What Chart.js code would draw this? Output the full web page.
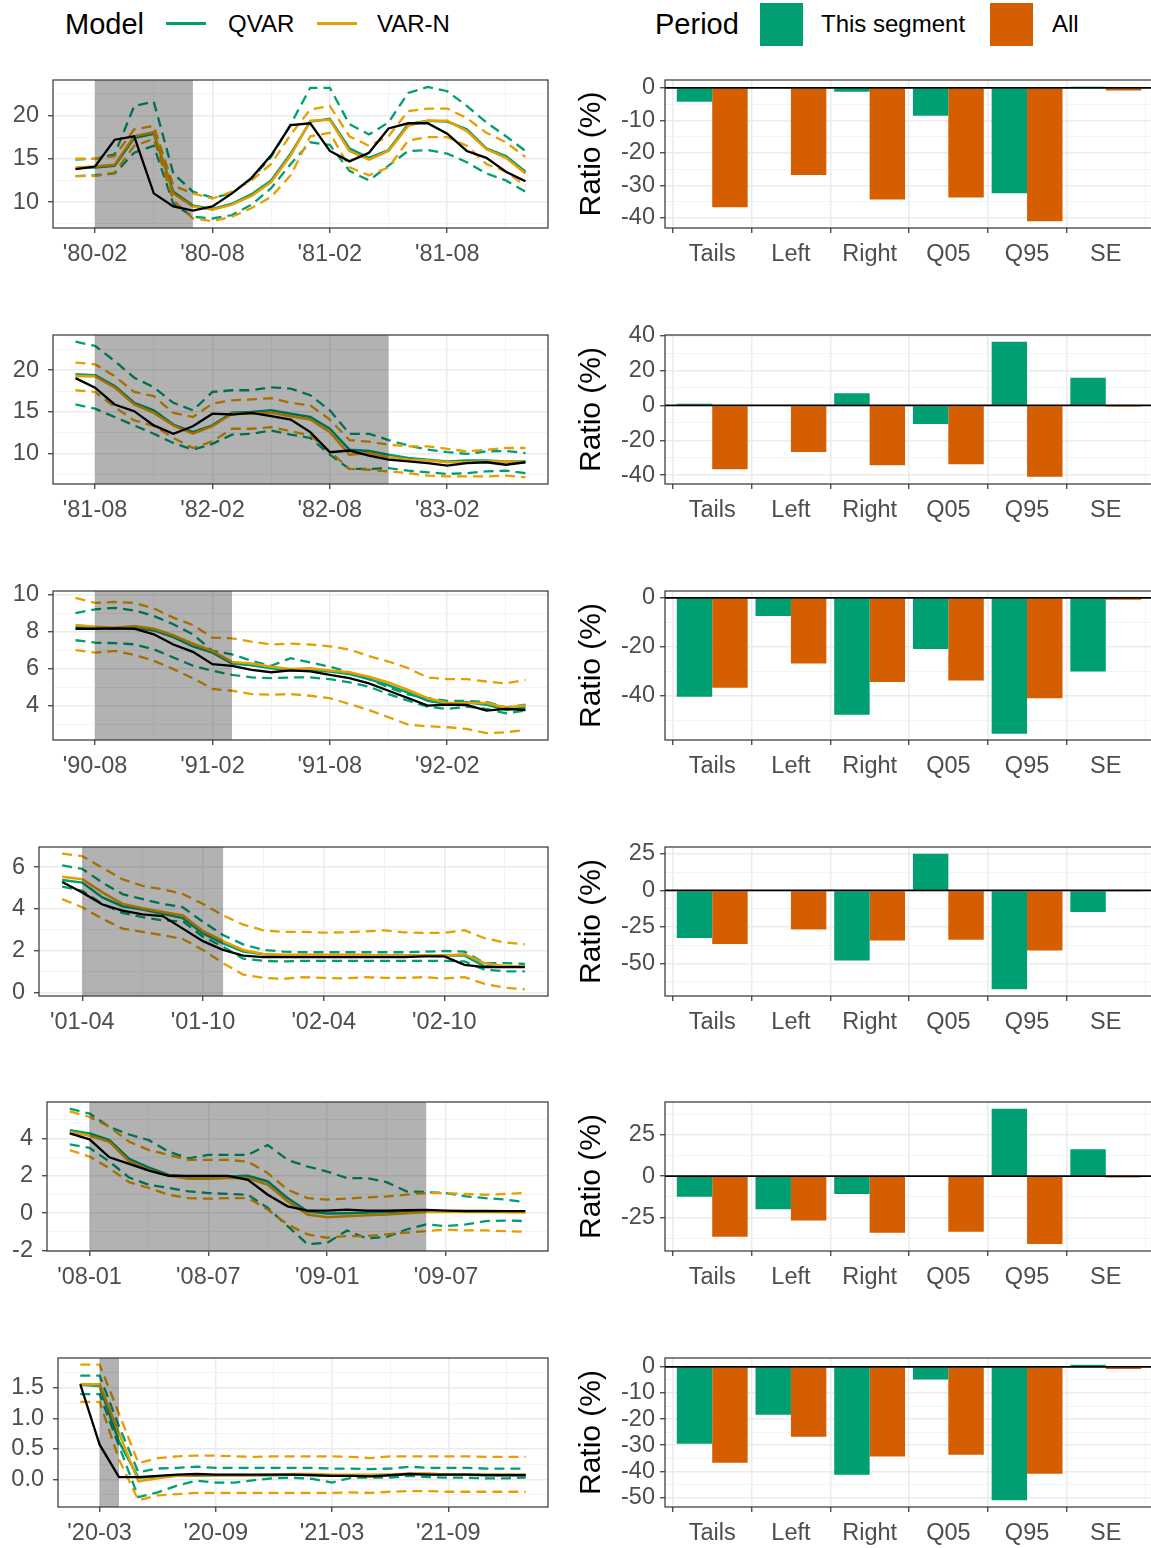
<!DOCTYPE html>
<html>
<head>
<meta charset="utf-8">
<script src="https://cdn.jsdelivr.net/npm/chart.js@4.4.0/dist/chart.umd.min.js"></script>
<style>
  body { margin: 0; width: 1151px; height: 1548px; position: relative; overflow: hidden; background: #fff;
         font-family: 'Liberation Sans', Arial, Helvetica, sans-serif; }
  canvas { position: absolute; }
  .lg { position: absolute; top: 0; height: 48px; line-height: 48px; font-size: 24px; color: #000; white-space: nowrap; }
  .ttl { font-size: 29px; }
  .kline { position: absolute; top: 22px; width: 40px; height: 3px; }
  .ksq { position: absolute; top: 3px; width: 43px; height: 43px; }
</style>
</head>
<body>
<div class="lg ttl" style="left:65px">Model</div>
<div class="kline" style="left:166px;background:#009E73"></div>
<div class="lg" style="left:228px">QVAR</div>
<div class="kline" style="left:317px;background:#E69F00"></div>
<div class="lg" style="left:377px">VAR-N</div>
<div class="lg ttl" style="left:655px">Period</div>
<div class="ksq" style="left:760px;background:#009E73"></div>
<div class="lg" style="left:821px">This segment</div>
<div class="ksq" style="left:990px;background:#D55E00"></div>
<div class="lg" style="left:1052px">All</div>

<script>
// month tick labels of each segment (ticks sit at month index 1, 7, 13, 19)
const tickLabels = [
  ["'80-02", "'80-08", "'81-02", "'81-08"],
  ["'81-08", "'82-02", "'82-08", "'83-02"],
  ["'90-08", "'91-02", "'91-08", "'92-02"],
  ["'01-04", "'01-10", "'02-04", "'02-10"],
  ["'08-01", "'08-07", "'09-01", "'09-07"],
  ["'20-03", "'20-09", "'21-03", "'21-09"]
];
// recession months (index into each segment)
const recessionStart = [1, 1, 1, 1, 1, 1];
const recessionEnd = [6, 16, 8, 8, 18, 2];

const actual = [
  [13.8, 14.1, 17.2, 17.6, 11.0, 9.5, 9.0, 9.5, 11.0, 12.8, 15.4, 18.9, 19.1, 15.9, 14.7, 15.7, 18.5, 19.1, 19.1, 17.9, 15.9, 15.1, 13.5, 12.4],
  [19.05, 17.9, 15.9, 15.1, 13.4, 12.4, 13.3, 14.8, 14.7, 14.9, 14.5, 14.1, 12.6, 10.2, 10.4, 9.8, 9.3, 9.1, 8.9, 8.6, 8.9, 9.0, 8.7, 9.0],
  [8.15, 8.15, 8.17, 8.15, 7.85, 7.3, 6.9, 6.24, 6.15, 5.93, 5.8, 5.9, 5.85, 5.66, 5.48, 5.2, 4.8, 4.4, 4.0, 4.05, 4.03, 3.73, 3.82, 3.76],
  [5.29, 4.79, 4.21, 3.92, 3.74, 3.66, 3.06, 2.46, 2.04, 1.77, 1.70, 1.70, 1.70, 1.70, 1.70, 1.70, 1.70, 1.70, 1.73, 1.73, 1.33, 1.22, 1.22, 1.22],
  [4.27, 3.95, 2.99, 2.64, 2.28, 2.0, 2.0, 2.0, 2.0, 1.79, 0.99, 0.37, 0.14, 0.14, 0.19, 0.14, 0.14, 0.16, 0.18, 0.14, 0.12, 0.12, 0.11, 0.11],
  [1.56, 0.57, 0.04, 0.04, 0.06, 0.08, 0.09, 0.08, 0.08, 0.08, 0.08, 0.08, 0.07, 0.06, 0.06, 0.05, 0.07, 0.09, 0.08, 0.08, 0.08, 0.07, 0.07, 0.07]
];
const qvar = [
  [13.9, 14.0, 14.2, 17.4, 17.9, 11.2, 9.6, 9.2, 9.8, 10.9, 12.5, 15.6, 19.3, 19.6, 16.2, 15.1, 16.0, 19.0, 19.4, 19.3, 18.4, 16.2, 15.3, 13.5],
  [19.5, 19.4, 18.1, 16.1, 15.2, 13.5, 12.6, 13.4, 14.9, 15.0, 15.2, 14.8, 14.4, 13.0, 10.5, 10.35, 9.9, 9.5, 9.3, 9.1, 9.2, 9.2, 9.1, 9.1],
  [8.24, 8.2, 8.17, 8.2, 8.06, 7.7, 7.2, 6.86, 6.27, 6.18, 6.02, 5.9, 5.9, 5.84, 5.7, 5.43, 5.1, 4.7, 4.26, 4.09, 4.18, 4.05, 3.76, 3.9],
  [5.38, 5.26, 4.55, 4.13, 3.97, 3.77, 3.56, 2.83, 2.35, 1.96, 1.84, 1.77, 1.77, 1.77, 1.77, 1.77, 1.77, 1.77, 1.77, 1.77, 1.77, 1.26, 1.26, 1.26],
  [4.44, 4.27, 3.91, 2.90, 2.44, 2.05, 1.96, 1.96, 1.96, 2.0, 1.70, 0.81, 0.11, -0.02, 0.0, 0.04, 0.07, 0.11, 0.11, 0.11, 0.11, 0.11, 0.11, 0.09],
  [1.55, 1.53, 0.62, 0.03, 0.05, 0.06, 0.06, 0.07, 0.07, 0.07, 0.07, 0.08, 0.08, 0.07, 0.07, 0.07, 0.08, 0.09, 0.09, 0.08, 0.08, 0.08, 0.08, 0.08]
];
const qvarLo = [
  [13.0, 13.1, 13.3, 15.7, 16.5, 9.8, 8.3, 8.1, 8.5, 9.7, 11.6, 14.4, 16.9, 16.6, 13.6, 12.5, 14.2, 15.9, 16.0, 15.6, 14.6, 13.3, 12.5, 11.2],
  [15.9, 15.4, 14.4, 13.4, 12.4, 11.3, 10.5, 11.2, 12.3, 12.4, 12.8, 12.3, 11.9, 9.9, 8.2, 8.2, 8.3, 8.0, 7.8, 7.6, 7.7, 7.9, 8.0, 7.7],
  [7.53, 7.4, 7.37, 7.31, 7.04, 6.6, 6.15, 5.88, 5.66, 5.52, 5.48, 5.52, 5.52, 5.43, 5.25, 5.02, 4.62, 4.26, 3.94, 3.82, 3.94, 3.82, 3.58, 3.73],
  [5.07, 4.87, 4.24, 3.81, 3.61, 3.45, 3.41, 2.67, 2.2, 1.62, 1.52, 1.49, 1.52, 1.52, 1.52, 1.52, 1.52, 1.52, 1.52, 1.52, 1.49, 1.10, 1.02, 1.02],
  [3.68, 3.50, 2.76, 1.91, 1.52, 1.35, 1.17, 1.08, 1.03, 0.99, 0.28, -0.69, -1.66, -1.58, -0.92, -1.35, -1.27, -0.87, -0.60, -0.69, -0.60, -0.42, -0.39, -0.42],
  [1.40, 1.40, 0.55, -0.29, -0.21, -0.10, -0.02, -0.05, -0.05, -0.01, 0.02, 0.03, 0.01, -0.05, 0.03, 0.03, 0.03, 0.06, 0.04, 0.03, 0.03, 0.02, 0.02, 0.03]
];
const qvarHi = [
  [14.9, 15.0, 15.5, 21.1, 21.6, 13.3, 11.2, 10.5, 11.0, 12.7, 15.2, 19.0, 23.2, 23.2, 19.0, 17.8, 19.2, 22.6, 23.3, 22.8, 21.1, 19.2, 17.6, 15.9],
  [23.4, 22.9, 21.1, 19.1, 17.95, 16.1, 15.2, 17.4, 17.6, 17.6, 17.95, 17.8, 17.0, 15.2, 12.4, 12.4, 11.65, 11.0, 10.5, 10.2, 10.0, 10.3, 10.35, 10.1],
  [9.0, 9.2, 9.28, 9.14, 8.84, 8.39, 7.85, 6.95, 6.77, 6.42, 6.15, 6.56, 6.33, 6.1, 5.8, 5.43, 4.98, 4.6, 4.4, 4.25, 4.25, 4.2, 3.9, 4.05],
  [6.08, 5.92, 5.26, 4.71, 4.47, 4.24, 4.08, 3.38, 2.75, 2.31, 2.04, 1.96, 1.93, 1.93, 1.93, 1.93, 1.93, 1.93, 1.96, 1.99, 1.96, 1.41, 1.41, 1.37],
  [5.59, 5.33, 4.62, 4.21, 3.91, 3.29, 2.94, 3.12, 3.12, 3.12, 3.65, 2.85, 2.50, 2.23, 1.88, 1.88, 1.66, 1.17, 1.13, 1.08, 0.90, 0.81, 0.73, 0.60],
  [1.70, 1.70, 0.87, 0.12, 0.18, 0.19, 0.21, 0.19, 0.19, 0.19, 0.19, 0.19, 0.19, 0.18, 0.18, 0.17, 0.18, 0.21, 0.19, 0.19, 0.19, 0.18, 0.18, 0.18]
];
const varn = [
  [14.0, 14.1, 14.3, 17.6, 18.1, 11.0, 9.5, 9.1, 9.7, 10.7, 12.3, 15.4, 19.4, 19.5, 15.9, 14.9, 15.9, 18.8, 19.4, 19.4, 18.2, 16.1, 15.1, 13.3],
  [19.3, 19.25, 17.95, 15.9, 14.9, 13.4, 12.4, 13.3, 14.8, 14.8, 14.9, 14.5, 14.1, 12.6, 9.9, 10.1, 9.6, 9.3, 9.2, 9.0, 9.0, 9.1, 9.1, 9.0],
  [8.35, 8.26, 8.2, 8.3, 8.15, 7.8, 7.35, 6.95, 6.36, 6.27, 6.1, 5.97, 6.02, 5.9, 5.8, 5.56, 5.25, 4.84, 4.4, 4.14, 4.14, 4.14, 3.9, 4.0],
  [5.54, 5.42, 4.79, 4.24, 4.03, 3.85, 3.69, 2.95, 2.46, 2.04, 1.85, 1.81, 1.81, 1.81, 1.81, 1.81, 1.77, 1.77, 1.77, 1.77, 1.84, 1.41, 1.26, 1.26],
  [4.35, 4.14, 3.82, 2.76, 2.32, 2.0, 1.84, 1.84, 1.88, 1.88, 1.52, 0.64, -0.07, -0.21, -0.16, -0.11, -0.07, 0.0, 0.07, 0.07, 0.07, 0.07, 0.05, 0.04],
  [1.56, 1.56, 0.76, -0.03, 0.02, 0.06, 0.07, 0.07, 0.07, 0.07, 0.08, 0.09, 0.09, 0.08, 0.08, 0.08, 0.08, 0.10, 0.10, 0.08, 0.08, 0.08, 0.08, 0.08]
];
const varnLo = [
  [13.0, 13.0, 13.4, 16.5, 17.3, 10.2, 8.1, 7.8, 8.3, 9.3, 10.6, 13.1, 17.6, 18.0, 14.0, 13.1, 14.0, 17.1, 17.5, 17.5, 16.5, 14.4, 13.5, 11.9],
  [17.6, 17.4, 15.6, 14.0, 13.35, 11.9, 10.7, 11.5, 13.0, 13.0, 13.2, 12.7, 12.2, 10.3, 8.2, 8.1, 7.9, 7.7, 7.4, 7.3, 7.3, 7.3, 7.4, 7.2],
  [6.99, 6.86, 6.95, 6.74, 6.42, 5.97, 5.48, 4.9, 4.8, 4.62, 4.59, 4.62, 4.53, 4.4, 4.09, 3.76, 3.37, 2.97, 2.88, 2.83, 2.74, 2.51, 2.56, 2.69],
  [4.47, 4.08, 3.53, 3.06, 2.90, 2.75, 2.56, 2.04, 1.41, 0.86, 0.71, 0.66, 0.74, 0.71, 0.68, 0.74, 0.71, 0.71, 0.74, 0.68, 0.74, 0.42, 0.24, 0.16],
  [3.38, 3.03, 2.41, 1.66, 1.35, 0.99, 0.81, 0.78, 0.81, 0.81, 0.19, -0.60, -1.13, -1.31, -1.22, -1.22, -1.13, -1.04, -0.96, -0.87, -0.92, -0.92, -0.96, -0.99],
  [1.27, 1.27, 0.33, -0.34, -0.26, -0.24, -0.22, -0.22, -0.22, -0.22, -0.22, -0.22, -0.22, -0.22, -0.21, -0.22, -0.20, -0.19, -0.19, -0.20, -0.20, -0.20, -0.20, -0.20]
];
const varnHi = [
  [15.0, 15.0, 15.3, 18.4, 18.8, 11.9, 11.0, 10.4, 11.2, 12.5, 14.4, 17.8, 20.7, 21.1, 17.6, 16.5, 17.6, 20.5, 20.8, 20.8, 19.7, 18.0, 16.9, 15.2],
  [20.9, 20.7, 19.3, 17.4, 16.9, 14.9, 14.4, 16.0, 16.4, 16.5, 16.65, 16.1, 15.8, 14.1, 11.65, 11.45, 11.1, 10.9, 10.9, 10.6, 10.3, 10.5, 10.7, 10.7],
  [9.82, 9.55, 9.6, 9.55, 9.25, 8.75, 8.35, 7.67, 7.63, 7.45, 7.3, 7.35, 7.3, 7.2, 7.03, 6.67, 6.38, 6.02, 5.52, 5.43, 5.43, 5.3, 5.2, 5.38],
  [6.64, 6.52, 5.97, 5.42, 5.10, 4.94, 4.71, 4.24, 3.69, 3.25, 2.98, 2.90, 2.90, 2.87, 2.88, 2.92, 2.98, 2.88, 2.86, 2.86, 2.98, 2.60, 2.40, 2.31],
  [5.45, 5.15, 4.62, 3.82, 3.38, 3.12, 2.85, 2.85, 2.85, 2.76, 2.14, 1.26, 0.81, 0.73, 0.78, 0.85, 0.90, 0.99, 1.08, 1.08, 1.03, 0.99, 1.03, 1.08],
  [1.88, 1.88, 1.08, 0.27, 0.35, 0.38, 0.39, 0.39, 0.38, 0.37, 0.38, 0.38, 0.38, 0.38, 0.37, 0.35, 0.38, 0.38, 0.38, 0.38, 0.38, 0.37, 0.37, 0.37]
];

// bar panels: ratio (%) per statistic
const categories = ['Tails', 'Left', 'Right', 'Q05', 'Q95', 'SE'];
const allRatio = [-36.7, -26.8, -34.3, -33.7, -41.0, -0.8];
const segmentRatio = [
  [-4.3, 0, -1.2, -8.6, -32.4, 0.3],
  [0.9, 0, 7.0, -10.6, 36.5, 15.9],
  [-40.4, -7.4, -47.7, -20.9, -55.4, -30.0],
  [-32.6, 0, -48.0, 25.1, -67.6, -14.7],
  [-12.5, -20.1, -10.8, 0, 40.8, 16.3],
  [-29.5, -18.3, -41.3, -4.8, -51.1, 0.8]
];

// axis setup per row
const lineY = [
  { min: 7.0, max: 24.1, major: [10, 15, 20], minor: [7.5, 12.5, 17.5, 22.5], dec: 0 },
  { min: 6.4, max: 24.2, major: [10, 15, 20], minor: [7.5, 12.5, 17.5, 22.5], dec: 0 },
  { min: 2.14, max: 10.19, major: [4, 6, 8, 10], minor: [3, 5, 7, 9], dec: 0 },
  { min: -0.16, max: 6.96, major: [0, 2, 4, 6], minor: [1, 3, 5], dec: 0 },
  { min: -2.02, max: 5.95, major: [-2, 0, 2, 4], minor: [-1, 1, 3, 5], dec: 0 },
  { min: -0.45, max: 1.99, major: [0, 0.5, 1, 1.5], minor: [-0.25, 0.25, 0.75, 1.25, 1.75], dec: 1 }
];
const barY = [
  { min: -43.1, max: 2.4, major: [-40, -30, -20, -10, 0], minor: [-35, -25, -15, -5] },
  { min: -45.1, max: 40.4, major: [-40, -20, 0, 20, 40], minor: [-30, -10, 10, 30] },
  { min: -58.0, max: 2.8, major: [-40, -20, 0], minor: [-50, -30, -10] },
  { min: -72.2, max: 29.7, major: [-50, -25, 0, 25], minor: [-62.5, -37.5, -12.5, 12.5] },
  { min: -45.3, max: 44.9, major: [-25, 0, 25], minor: [-37.5, -12.5, 12.5, 37.5] },
  { min: -53.7, max: 3.4, major: [-50, -40, -30, -20, -10, 0], minor: [-45, -35, -25, -15, -5] }
];

const rowTop = [80, 335, 591, 847, 1102, 1358];
const rowBottom = [228, 484, 740, 996, 1251, 1507];
const lineLeft = [53, 53, 53, 39, 47, 58];
const barLeft = 665;

const FONT = "'Liberation Sans', Arial, Helvetica, sans-serif";
const GREEN = '#009E73', ORANGE = '#E69F00', VERMILION = '#D55E00';
const TOPPAD = 24, XAXIS_H = 45;

function makeCanvas(left, top, w, h) {
  const c = document.createElement('canvas');
  c.width = w; c.height = h;
  c.style.left = left + 'px'; c.style.top = top + 'px';
  c.style.width = w + 'px'; c.style.height = h + 'px';
  document.body.appendChild(c);
  return c;
}

function setTicks(major, minor) {
  return scale => {
    scale.ticks = major.map(v => ({ value: v, isMajor: true }))
      .concat(minor.map(v => ({ value: v, isMajor: false })))
      .sort((a, b) => a.value - b.value);
  };
}

const grid = {
  color: c => (c.tick && c.tick.isMajor) ? '#EBEBEB' : '#F2F2F2',
  lineWidth: c => (c.tick && c.tick.isMajor) ? 1.5 : 0.9,
  tickColor: c => (c.tick && c.tick.isMajor) ? '#333333' : 'rgba(0,0,0,0)',
  tickWidth: 1.2,
  tickLength: 5
};
const tickFont = { family: FONT, size: 23.5 };

const panelBorder = {
  id: 'panelBorder',
  afterDraw(chart) {
    const { ctx, chartArea: a } = chart;
    ctx.save();
    ctx.strokeStyle = '#333333';
    ctx.lineWidth = 1.2;
    ctx.strokeRect(a.left, a.top, a.right - a.left, a.bottom - a.top);
    ctx.restore();
  }
};

const shade = {
  id: 'shade',
  afterDatasetsDraw(chart, args, opts) {
    const { ctx, chartArea: a, scales: { x } } = chart;
    const x0 = x.getPixelForValue(opts.from), x1 = x.getPixelForValue(opts.to);
    ctx.save();
    ctx.fillStyle = 'rgba(0,0,0,0.3)';
    ctx.fillRect(x0, a.top, x1 - x0, a.bottom - a.top);
    ctx.restore();
  }
};

const zeroLine = {
  id: 'zeroLine',
  afterDatasetsDraw(chart) {
    const { ctx, chartArea: a, scales: { y } } = chart;
    const py = y.getPixelForValue(0);
    ctx.save();
    ctx.strokeStyle = '#000';
    ctx.lineWidth = 1.8;
    ctx.beginPath();
    ctx.moveTo(a.left, py);
    ctx.lineTo(a.right, py);
    ctx.stroke();
    ctx.restore();
  }
};

function pts(arr) { return arr.map((y, i) => ({ x: i, y })); }

function lineChart(k) {
  const h = rowBottom[k] - rowTop[k] + TOPPAD + XAXIS_H;
  const canvas = makeCanvas(0, rowTop[k] - TOPPAD, 560, h);
  const ax = lineY[k];
  const solid = (data, color, w) => ({ data: pts(data), borderColor: color, borderWidth: w, borderDash: [] });
  const dashed = (data, color) => ({ data: pts(data), borderColor: color, borderWidth: 2.3, borderDash: [10, 6] });

  new Chart(canvas, {
    type: 'line',
    data: {
      datasets: [
        solid(actual[k], '#000000', 2.3),
        solid(varn[k], ORANGE, 2.5),
        solid(qvar[k], GREEN, 2.5),
        dashed(varnHi[k], ORANGE),
        dashed(varnLo[k], ORANGE),
        dashed(qvarHi[k], GREEN),
        dashed(qvarLo[k], GREEN)
      ]
    },
    options: {
      responsive: false,
      animation: false,
      layout: { padding: { top: TOPPAD, right: 12, left: 0, bottom: 0 } },
      elements: { point: { radius: 0 }, line: { tension: 0, fill: false } },
      plugins: {
        legend: { display: false },
        tooltip: { enabled: false },
        shade: { from: recessionStart[k], to: recessionEnd[k] }
      },
      scales: {
        x: {
          type: 'linear', min: -1.15, max: 24.15, bounds: 'data',
          afterBuildTicks: setTicks([1, 7, 13, 19], [4, 10, 16, 22]),
          afterFit: s => { s.height = XAXIS_H; },
          grid: grid,
          border: { display: false },
          ticks: {
            autoSkip: false, maxRotation: 0, padding: 7, color: '#4D4D4D', font: tickFont,
            callback: (v, i, t) => t[i].isMajor ? tickLabels[k][[1, 7, 13, 19].indexOf(v)] : ''
          }
        },
        y: {
          type: 'linear', min: ax.min, max: ax.max, bounds: 'data',
          afterBuildTicks: setTicks(ax.major, ax.minor),
          afterFit: s => { s.width = lineLeft[k]; },
          grid: grid,
          border: { display: false },
          ticks: {
            autoSkip: false, padding: 9, color: '#4D4D4D', font: tickFont,
            callback: (v, i, t) => t[i].isMajor ? v.toFixed(ax.dec) : ''
          }
        }
      }
    },
    plugins: [shade, panelBorder]
  });
}

function barChart(k) {
  const h = rowBottom[k] - rowTop[k] + TOPPAD + XAXIS_H;
  const canvas = makeCanvas(570, rowTop[k] - TOPPAD, 583, h);
  const ax = barY[k];
  new Chart(canvas, {
    type: 'bar',
    data: {
      datasets: [
        { label: 'This segment', data: pts(segmentRatio[k]), backgroundColor: GREEN },
        { label: 'All', data: pts(allRatio), backgroundColor: VERMILION }
      ]
    },
    options: {
      responsive: false,
      animation: false,
      layout: { padding: { top: TOPPAD, right: 0, left: 0, bottom: 0 } },
      datasets: { bar: { categoryPercentage: 0.9, barPercentage: 1.0, borderWidth: 0 } },
      plugins: { legend: { display: false }, tooltip: { enabled: false } },
      scales: {
        x: {
          type: 'linear', min: -0.6, max: 5.6, offset: false, bounds: 'data',
          afterBuildTicks: setTicks([0, 1, 2, 3, 4, 5], []),
          afterFit: s => { s.height = XAXIS_H; },
          grid: grid,
          border: { display: false },
          ticks: {
            autoSkip: false, maxRotation: 0, padding: 7, color: '#4D4D4D', font: tickFont,
            callback: v => categories[v]
          }
        },
        y: {
          type: 'linear', min: ax.min, max: ax.max, bounds: 'data',
          afterBuildTicks: setTicks(ax.major, ax.minor),
          afterFit: s => { s.width = barLeft - 570; },
          grid: grid,
          border: { display: false },
          title: { display: true, text: 'Ratio (%)', color: '#000', font: { family: FONT, size: 30 }, padding: { top: 4, bottom: 4 } },
          ticks: {
            autoSkip: false, padding: 5, color: '#4D4D4D', font: tickFont,
            callback: (v, i, t) => t[i].isMajor ? String(v) : ''
          }
        }
      }
    },
    plugins: [zeroLine, panelBorder]
  });
}

for (let k = 0; k < 6; k++) {
  lineChart(k);
  barChart(k);
}
</script>
</body>
</html>
